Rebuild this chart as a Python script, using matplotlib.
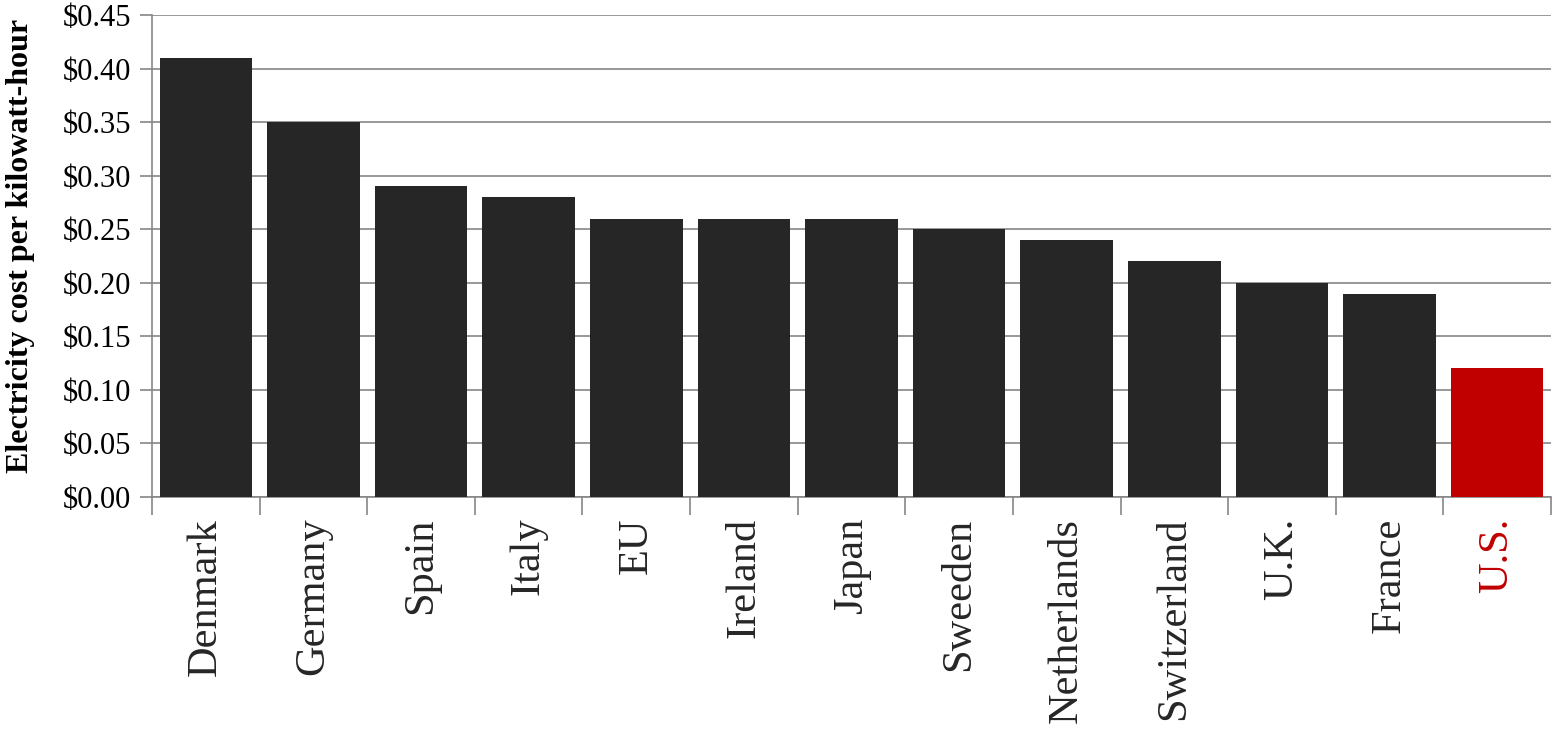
import matplotlib.pyplot as plt
from matplotlib.ticker import FuncFormatter, FixedLocator, NullFormatter
import numpy as np

countries = ["Denmark", "Germany", "Spain", "Italy", "EU", "Ireland", "Japan",
             "Sweeden", "Netherlands", "Switzerland", "U.K.", "France", "U.S."]
cost = [0.41, 0.35, 0.29, 0.28, 0.26, 0.26, 0.26, 0.25, 0.24, 0.22, 0.20, 0.19, 0.12]

plt.rcParams['font.family'] = ['Liberation Serif', 'DejaVu Serif']

fig = plt.figure(figsize=(15.64, 7.32), dpi=100)
ax = fig.add_axes([0.0972, 0.321, 0.8945, 0.6585])

x = np.arange(len(countries))
colors = ['#262626'] * (len(countries) - 1) + ['#C00000']
ax.bar(x, cost, width=0.86, color=colors, zorder=3)

ax.set_xlim(-0.5, len(countries) - 0.5)
ax.set_ylim(0, 0.45)
ax.set_yticks(np.arange(0, 0.451, 0.05))
ax.yaxis.set_major_formatter(FuncFormatter(lambda v, p: f"${v:.2f}"))
ax.grid(axis='y', color='#868686', linewidth=1.2, zorder=0)

# category labels at centers, tick marks at boundaries
ax.set_xticks(x)
ax.set_xticklabels(countries, rotation=90, fontsize=30.5)
ax.tick_params(axis='x', which='major', length=0, pad=15)
ax.xaxis.set_minor_locator(FixedLocator(np.arange(-0.5, len(countries), 1.0)))
ax.xaxis.set_minor_formatter(NullFormatter())
ax.tick_params(axis='x', which='minor', length=13, width=1.2, color='#868686')
ax.get_xticklabels()[-1].set_color('#C00000')
for lbl in ax.get_xticklabels()[:-1]:
    lbl.set_color('#262626')

ax.tick_params(axis='y', labelsize=22, length=9, width=1.2, color='#868686', pad=6)

for s in ['top', 'right']:
    ax.spines[s].set_visible(False)
for s in ['left', 'bottom']:
    ax.spines[s].set_color('#868686')
    ax.spines[s].set_linewidth(1.2)

ax.set_ylabel("Electricity cost per kilowatt-hour", fontsize=23, fontweight='bold')
ax.yaxis.set_label_coords(-0.084, 0.521)

fig.savefig('out.png', dpi=100)
